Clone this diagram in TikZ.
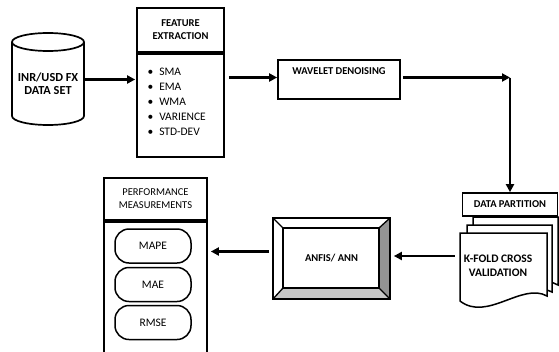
\documentclass[tikz,border=0pt]{standalone}
\usepackage{fontspec}
\setmainfont{Carlito}
\usetikzlibrary{arrows.meta,calc,backgrounds}
\begin{document}
\begin{tikzpicture}[x=1pt,y=-1pt,
  box/.style={draw, line width=1.7pt, fill=white, inner sep=0pt},
  arr/.style={line width=2.2pt, -{Triangle[length=8pt,width=8pt]}},
  lbl/.style={font=\fontsize{10.5}{13}\selectfont\bfseries, align=center},
  rlbl/.style={font=\fontsize{10.5}{13}\selectfont, align=center},
  pill/.style={draw, line width=1.5pt, rounded corners=14pt, minimum width=76pt, minimum height=34pt, font=\fontsize{11.5}{13}\selectfont},
  docshape/.style={draw, line width=1.5pt, fill=white}
]
\useasboundingbox (0,0) rectangle (559,351);

% data set cylinder
\draw[line width=1.7pt] (12,42) -- (12,116) arc[start angle=180, end angle=0, x radius=36, y radius=9] -- (84,42);
\draw[line width=1.7pt] (48,42) ellipse[x radius=36, y radius=9];
\node[minimum width=72pt, minimum height=92pt, font=\fontsize{12.3}{13}\selectfont\bfseries, align=center] (db) at (48,83.5) {INR/USD FX\\DATA SET};

% feature extraction
\node[box, minimum width=87pt, minimum height=44pt, lbl] (fh) at (180.5,30) {FEATURE\\EXTRACTION};
\node[box, minimum width=87pt, minimum height=103pt, anchor=north] (fb) at (fh.south) {};
\draw[line width=2.4pt] (fh.south west) -- (fh.south east);
\node[anchor=west, align=left, font=\fontsize{11.5}{15}\selectfont] (fl) at (144,102) {\textbullet\hspace{6pt}SMA\\\textbullet\hspace{6pt}EMA\\\textbullet\hspace{6pt}WMA\\\textbullet\hspace{6pt}VARIENCE\\\textbullet\hspace{6pt}STD-DEV};

% wavelet
\node[box, minimum width=122pt, minimum height=39pt, lbl] (wd) at (339,79.5) {WAVELET DENOISING\\\strut};

% data partition
\node[box, minimum width=95pt, minimum height=23pt, lbl] (dp) at (510,204.5) {DATA PARTITION};
\coordinate (cn) at ($(dp.north |- wd.east)+(0,-2)$);

% documents
\draw[docshape] (473,217) -- (558,217) -- (558,285) .. controls (535,272) and (500,300) .. (473,290) -- cycle;
\draw[docshape] (467,225) -- (552,225) -- (552,292) .. controls (530,280) and (494,312) .. (467,297) -- cycle;
\draw[docshape] (460,233) -- (547,233) -- (547,296) .. controls (522,282) and (487,322) .. (460,301) -- cycle;
\node[minimum width=76pt, minimum height=60pt, font=\fontsize{11.5}{14}\selectfont\bfseries, align=center] (kf) at (498,266) {K-FOLD CROSS\\VALIDATION};

% ANFIS
\node[draw, line width=1.7pt, minimum width=117pt, minimum height=81pt, lbl] (an) at (331.5,258.5) {ANFIS/ ANN};
\begin{scope}[on background layer]
  \fill[black!22] (273,299) -- (283,288) -- (379,288) -- (390,299) -- cycle;
  \fill[black!42] (390,218) -- (379,228) -- (379,288) -- (390,299) -- cycle;
\end{scope}
\draw[line width=1.3pt] (283,228) rectangle (379,288);
\draw[line width=1.3pt] (273,218) -- (283,228) (390,218) -- (379,228) (273,299) -- (283,288) (390,299) -- (379,288);

% performance
\node[box, minimum width=103pt, minimum height=42pt, rlbl] (ph) at (155.5,199) {PERFORMANCE\\MEASUREMENTS};
\node[box, minimum width=103pt, minimum height=145pt, anchor=north] (pb) at (ph.south) {};
\draw[line width=2.4pt] (ph.south west) -- (ph.south east);
\node[pill] (mape) at (153,246) {MAPE};
\node[pill] (mae) at (153,284.5) {MAE};
\node[pill] (rmse) at (153,322.5) {RMSE};

% connectors
\draw[arr, shorten >=1pt] ([yshift=4pt]db.east) -- ([yshift=4pt]db.east -| fb.west);
\draw[arr, shorten <=4pt] ([yshift=2pt]wd.west -| fb.east) -- ([yshift=2pt]wd.west);
\draw[arr, shorten <=2pt] ($(wd.east)+(0,-2)$) -- (cn);
\draw[arr] (cn) -- (dp.north);
\draw[arr, shorten <=5pt, shorten >=3pt] ([yshift=10pt]kf.west) -- ([yshift=10pt]kf.west -| an.east);
\draw[arr, shorten <=3pt, shorten >=3pt] ([yshift=7pt]an.west) -- ([yshift=7pt]an.west -| pb.east);
\end{tikzpicture}
\end{document}
